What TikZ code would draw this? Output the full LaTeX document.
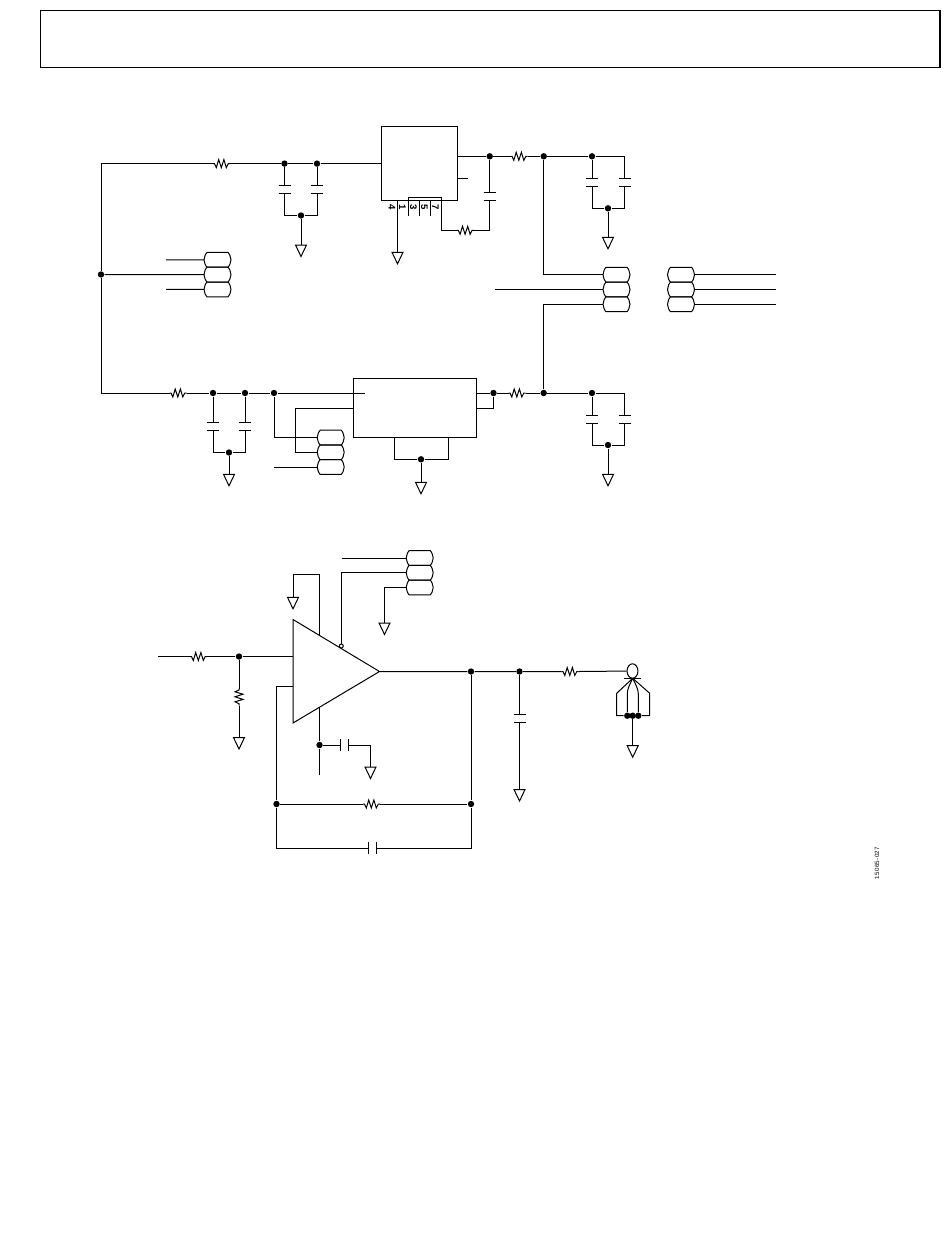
\documentclass[tikz,border=0pt]{standalone}
\usepackage{fontspec}
\usetikzlibrary{shapes.geometric}
\setmainfont{Liberation Sans}
\newfontfamily\codefont[LetterSpace=6]{Liberation Sans}
\tikzset{
  x=0.75pt,y=-0.75pt,
  every path/.style={line width=0.75pt,line join=miter},
  dot/.style={circle,fill=black,draw=none,inner sep=0pt,minimum size=4.8pt},
  ic/.style={draw,rectangle,inner sep=0pt,anchor=north west},
  pin/.style={font=\bfseries\fontsize{7.2pt}{8pt}\selectfont,rotate=-90,inner sep=0pt},
  res/.pic={
    \coordinate (a) at (-8.5,0); \coordinate (b) at (8.5,0);
    \draw (-8.5,0) -- (-7,0) -- (-5.2,4) -- (-2.8,-4) -- (-0.2,4) -- (2.4,-4) -- (4.8,4) -- (6.8,0) -- (8.5,0);
  },
  capa/.pic={
    \coordinate (a) at (0,-4); \coordinate (b) at (0,4);
    \draw (-6,-4) -- (6,-4) (-6,4) -- (6,4);
  },
  gnd/.pic={
    \coordinate (t) at (0,0);
    \draw (-5.5,0) -- (5.5,0) -- (0,11.5) -- cycle;
  },
  jump/.pic={
    \coordinate (w) at (-13.5,0); \coordinate (e) at (13.5,0);
    \draw (-10.5,-7.4) -- (10.5,-7.4) .. controls (11.6,-6.4) and (13.5,-3) .. (13.5,0)
      .. controls (13.5,3) and (11.6,6.4) .. (10.5,7.4) -- (-10.5,7.4)
      .. controls (-11.6,6.4) and (-13.5,3) .. (-13.5,0)
      .. controls (-13.5,-3) and (-11.6,-6.4) .. (-10.5,-7.4) -- cycle;
  }
}
\begin{document}
\begin{tikzpicture}
\useasboundingbox (0,0) rectangle (950,1260);
\node[ic,line width=1.1pt,minimum width=674.6pt,minimum height=42.6pt] (hdr) at (40,10) {};
% ---------- first regulator
\node[ic,minimum width=57.2pt,minimum height=55.7pt] (u1) at (381,126) {};
\coordinate (railt) at (101,163.6);
\coordinate (railb) at (101,393);
\node[dot] (jr) at (101,274.5) {};
\draw (railt) -- (jr) -- (railb);
\pic (r1) at (221.5,163.6) {res};
\node[dot] (j1) at (284.5,163.6) {};
\node[dot] (j2) at (317,163.6) {};
\draw (railt) -- (r1a) (r1b) -- (j1) -- (j2) -- (j2 -| u1.west);
\pic (c1) at (284.5,189.5) {capa};
\pic (c2) at (317,189.5) {capa};
\node[dot] (j3) at (301,215.5) {};
\draw (j1) -- (c1a) (c1b) |- (j3);
\draw (j2) -- (c2a) (c2b) |- (j3);
\pic (g1) at (301,245) {gnd};
\draw (j3) -- (g1t);
% pins
\coordinate (pa) at (408.3,197.3);
\coordinate (pb) at (441.3,197.3);
\coordinate (p3) at (408.3,215.5);
\coordinate (p5) at (419.3,215.5);
\coordinate (p5t) at (419.3,200.5);
\coordinate (p7) at (430.3,215.5);
\coordinate (p7t) at (430.3,200.5);
\draw (p3) -- (pa) -- (pb) -- (441.3,230.3) coordinate (pc);
\draw (p5t) -- (p5) (p7t) -- (p7);
\node[pin] (t4) at (391.8,207.3) {4};
\node[pin] (t1) at (402.3,207.3) {1};
\node[pin] (t3) at (413.3,207.3) {3};
\node[pin] (t5) at (424.3,207.3) {5};
\node[pin] (t7) at (435.3,207.3) {7};
\pic (g2) at (397.5,252.3) {gnd};
\draw (u1.south -| g2t) -- (g2t);
\pic (r2) at (465.3,230.3) {res};
\node[dot] (j4) at (489.7,156.3) {};
\pic (c3) at (489.7,196.8) {capa};
\coordinate (c3c) at (489.7,230.3);
\draw (pc) -- (r2a) (r2b) -- (c3c) -- (c3b) (c3a) -- (j4);
\coordinate (stub) at (468,178.3);
\draw (stub -| u1.east) -- (stub);
\pic (r3) at (519,156.3) {res};
\node[dot] (j5) at (543.7,156.3) {};
\node[dot] (j6) at (592,156.3) {};
\coordinate (k1) at (624.5,156.3);
\draw (j4 -| u1.east) -- (j4) -- (r3a) (r3b) -- (j5) -- (j6) -- (k1);
\pic (c4) at (592,182.3) {capa};
\pic (c5) at (624.5,182.3) {capa};
\node[dot] (j7) at (608,208.3) {};
\pic (g3) at (608,237.3) {gnd};
\draw (j6) -- (c4a) (c4b) |- (j7);
\draw (k1) -- (c5a) (c5b) |- (j7);
\draw (j7) -- (g3t);
% ---------- jumpers
\pic (a1) at (217.5,259.8) {jump};
\pic (a2) at (217.5,274.6) {jump};
\pic (a3) at (217.5,289.4) {jump};
\coordinate (a1l) at (166,259.8);
\coordinate (a3l) at (166,289.4);
\draw (a1l) -- (a1w) (jr) -- (a2w) (a3l) -- (a3w);
\pic (b1) at (616.5,274.7) {jump};
\pic (b2) at (616.5,289.5) {jump};
\pic (b3) at (616.5,304.3) {jump};
\coordinate (b2l) at (495,289.5);
\draw (j5) |- (b1w);
\draw (b2l) -- (b2w);
\pic (d1) at (681,274.7) {jump};
\pic (d2) at (681,289.5) {jump};
\pic (d3) at (681,304.3) {jump};
\coordinate (d1r) at (776,274.7);
\coordinate (d2r) at (776,289.5);
\coordinate (d3r) at (776,304.3);
\draw (d1e) -- (d1r) (d2e) -- (d2r) (d3e) -- (d3r);
% ---------- second regulator
\node[ic,minimum width=92.3pt,minimum height=44.3pt] (u2) at (353.3,378.3) {};
\pic (r4) at (178,393) {res};
\node[dot] (j8) at (213,393) {};
\node[dot] (j9) at (245,393) {};
\node[dot] (j10) at (274,393) {};
\coordinate (u2in) at (365,393);
\draw (railb) -- (r4a) (r4b) -- (j8) -- (j9) -- (j10) -- (u2in);
\pic (c6) at (213,426.5) {capa};
\pic (c7) at (245,426.5) {capa};
\node[dot] (j11) at (229,452.5) {};
\pic (g4) at (229,474.3) {gnd};
\draw (j8) -- (c6a) (c6b) |- (j11);
\draw (j9) -- (c7a) (c7b) |- (j11);
\draw (j11) -- (g4t);
\pic (e1) at (330.7,437.6) {jump};
\pic (e2) at (330.7,452.3) {jump};
\pic (e3) at (330.7,467) {jump};
\coordinate (e3l) at (274,467);
\coordinate (wa) at (295.3,408.3);
\draw (j10) |- (e1w);
\draw (wa -| u2.west) -- (wa) |- (e2w);
\draw (e3l) -- (e3w);
\coordinate (ba) at (394.3,459.3);
\coordinate (bb) at (448.7,459.3);
\node[dot] (j12) at (421,459.3) {};
\draw (u2.south -| ba) -- (ba) -- (j12) -- (bb) -- (u2.south -| bb);
\pic (g5) at (421,482.3) {gnd};
\draw (j12) -- (g5t);
\node[dot] (j13) at (493.5,393) {};
\coordinate (j13b) at (493.5,408.3);
\pic (r5) at (517,393) {res};
\node[dot] (j14) at (543.7,393) {};
\node[dot] (j15) at (592,393) {};
\coordinate (k2) at (624.5,393);
\draw (j13 -| u2.east) -- (j13) -- (j13b) -- (j13b -| u2.east);
\draw (j13) -- (r5a) (r5b) -- (j14) -- (j15) -- (k2);
\draw (j14) |- (b3w);
\pic (c8) at (592,419) {capa};
\pic (c9) at (624.5,419) {capa};
\node[dot] (j16) at (608,445) {};
\pic (g6) at (608,474.3) {gnd};
\draw (j15) -- (c8a) (c8b) |- (j16);
\draw (k2) -- (c9a) (c9b) |- (j16);
\draw (j16) -- (g6t);
% ---------- amplifier
\coordinate (ta) at (293,619.5);
\coordinate (tb) at (293,723);
\coordinate (tc) at (379.5,671.5);
\draw (ta) -- (tb) -- (tc) -- cycle;
\coordinate (inl) at (158,656.5);
\pic (r6) at (198.5,656.5) {res};
\node[dot] (j17) at (239,656.5) {};
\coordinate (inr) at (293,656.5);
\draw (inl) -- (r6a) (r6b) -- (j17) -- (inr);
\pic[rotate=-90] (r7) at (239,697) {res};
\pic (g7) at (239,737.5) {gnd};
\draw (j17) -- (r7a) (r7b) -- (g7t);
\pic (f1) at (419.7,558) {jump};
\pic (f2) at (419.7,572.8) {jump};
\pic (f3) at (419.7,587.5) {jump};
\coordinate (f1l) at (341.5,558);
\draw (f1l) -- (f1w);
\node[circle,draw,inner sep=0pt,minimum size=3pt] (nc) at (341.3,646) {};
\draw (nc) |- (f2w);
\pic (g8) at (384.5,623) {gnd};
\draw (g8t) |- (f3w);
\coordinate (pu) at (319.5,635.4);
\coordinate (pua) at (319.5,574.5);
\pic (g9) at (293,597.3) {gnd};
\draw (pu) -- (pua) -| (g9t);
\coordinate (pl) at (319.5,707.4);
\node[dot] (j18) at (319.5,745) {};
\coordinate (pe) at (319.5,775);
\draw (pl) -- (j18) -- (pe);
\pic[rotate=90] (c10) at (344,745) {capa};
\coordinate (c10r) at (370.5,745);
\pic (g10) at (370.5,767) {gnd};
\draw (j18) -- (c10a) (c10b) -- (c10r) -- (g10t);
\node[dot] (j19) at (471,671.5) {};
\node[dot] (j20) at (519.5,671.5) {};
\pic (r8) at (570,671.5) {res};
\node[draw,ellipse,minimum width=8.2pt,minimum height=10.8pt,inner sep=0pt] (coax) at (632.5,671) {};
\draw (tc) -- (j19) -- (j20) -- (r8a) (r8b) -- (coax);
\pic (c11) at (519.5,718.5) {capa};
\pic (g11) at (519.5,789.5) {gnd};
\draw (j20) -- (c11a) (c11b) -- (g11t);
% feedback
\coordinate (fba) at (293,686.5);
\node[dot] (j21) at (276.5,804) {};
\node[dot] (j22) at (471,804) {};
\pic (r9) at (371.5,804) {res};
\coordinate (fbb) at (276.5,848);
\coordinate (fbc) at (471,848);
\pic[rotate=90] (c12) at (372,848) {capa};
\draw (fba) -| (j21) -- (fbb) -- (c12a) (c12b) -- (fbc) -- (j22) -- (j19);
\draw (j21) -- (r9a) (r9b) -- (j22);
% coax shield
\coordinate (ap) at (632.7,678.3);
\coordinate (ol) at (616.7,693.3);
\coordinate (or) at (649.7,693.3);
\node[dot] (s1) at (627.3,715.7) {};
\node[dot] (s2) at (632.7,715.7) {};
\node[dot] (s3) at (638.3,715.7) {};
\coordinate (bl) at (616.7,715.7);
\coordinate (brr) at (649.7,715.7);
\draw (624,678.3) -- (641,678.3);
\draw (ap) -- (ol) -- (bl) -- (s1) -- (s2) -- (s3) -- (brr) -- (or) -- (ap);
\draw (ap) .. controls (629.5,685) and (627.3,689) .. (627.3,694) -- (s1);
\draw (ap) .. controls (635.9,685) and (638.3,689) .. (638.3,694) -- (s3);
\pic (g12) at (632.7,745.7) {gnd};
\draw (s2) -- (g12t);
\node[font=\codefont\fontsize{4.6pt}{6pt}\selectfont,rotate=90,inner sep=0pt] (code) at (877,863) {15065-027};
\end{tikzpicture}
\end{document}
